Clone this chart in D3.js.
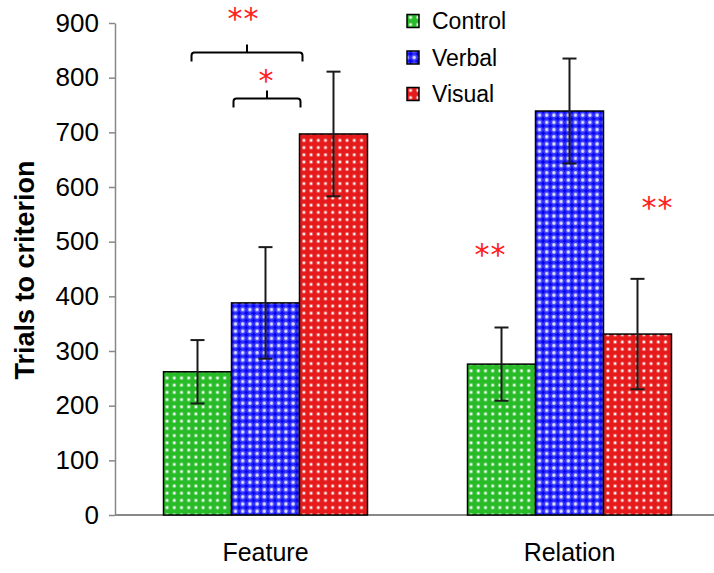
<!DOCTYPE html>
<html><head><meta charset="utf-8">
<script src="https://cdn.jsdelivr.net/npm/d3@7"></script>
<style>body{margin:0;background:#fff}svg{display:block}</style>
</head><body>
<script>
// Trials to criterion by training condition
const categories = ["Feature", "Relation"];
const seriesNames = ["Control", "Verbal", "Visual"];
const controlMeans = [262, 276];
const verbalMeans = [388, 739];
const visualMeans = [697, 331];
const controlErr = [58, 67];
const verbalErr = [102, 96];
const visualErr = [114, 101];
const yTicks = [0, 100, 200, 300, 400, 500, 600, 700, 800, 900];

const W = 714, H = 573;
const font = "'Liberation Sans', Arial, sans-serif";
const svg = d3.select("body").append("svg").attr("width", W).attr("height", H);

const y = d3.scaleLinear().domain([0, 900]).range([515, 23]);
const x0 = d3.scaleBand().domain(categories).range([113.5, 721.5])
  .paddingInner(0.329).paddingOuter(0.1645);
const x1 = d3.scaleBand().domain(seriesNames).range([0, x0.bandwidth()]);

// pattern fills
const defs = svg.append("defs");
function dotPattern(id, base, dot) {
  const p = defs.append("pattern").attr("id", id).attr("patternUnits", "userSpaceOnUse")
    .attr("width", 7.2).attr("height", 7.2);
  p.append("rect").attr("width", 7.2).attr("height", 7.2).attr("fill", base);
  p.append("circle").attr("cx", 3.6).attr("cy", 3.6).attr("r", 2).attr("fill", dot).attr("opacity", 0.55);
  p.append("circle").attr("cx", 3.6).attr("cy", 3.6).attr("r", 1.1).attr("fill", "#fff");
}
dotPattern("pControl", "#28bb28", "#bff0bf");
dotPattern("pVisual", "#e61a1a", "#f6b8b8");
{
  const p = defs.append("pattern").attr("id", "pVerbal").attr("patternUnits", "userSpaceOnUse")
    .attr("width", 7.2).attr("height", 7.2);
  p.append("rect").attr("width", 7.2).attr("height", 7.2).attr("fill", "#3a3aff");
  [[0,0],[7.2,0],[0,7.2],[7.2,7.2]].forEach(([cx, cy]) =>
    p.append("circle").attr("cx", cx).attr("cy", cy).attr("r", 1.7).attr("fill", "#e0e0ff"));
  p.append("path").attr("d", "M3.6,0.4L4.6,2.6L6.8,3.6L4.6,4.6L3.6,6.8L2.6,4.6L0.4,3.6L2.6,2.6Z").attr("fill", "#0000ee");
}
const fills = { Control: "url(#pControl)", Verbal: "url(#pVerbal)", Visual: "url(#pVisual)" };

const rows = categories.map((c, i) => ({
  cat: c,
  vals: [
    { s: "Control", v: controlMeans[i], e: controlErr[i] },
    { s: "Verbal", v: verbalMeans[i], e: verbalErr[i] },
    { s: "Visual", v: visualMeans[i], e: visualErr[i] }
  ]
}));

// axes
const yAxis = svg.append("g").attr("transform", "translate(115,0)")
  .call(d3.axisLeft(y).tickValues(yTicks).tickSize(6).tickSizeOuter(0).tickPadding(10));
yAxis.selectAll("line,path").attr("stroke", "#888").attr("stroke-width", 1.5);
yAxis.selectAll("text").attr("font-family", font).attr("font-size", 26).attr("fill", "#000");

const xAxis = svg.append("g").attr("transform", "translate(0,515)")
  .call(d3.axisBottom(x0).tickSize(0).tickPadding(28));
xAxis.select(".domain").attr("d", "M115,0H714").attr("stroke", "#888").attr("stroke-width", 2);
xAxis.selectAll("text").attr("font-family", font).attr("font-size", 25).attr("fill", "#000");

// bars
const groups = svg.append("g").selectAll("g").data(rows).join("g")
  .attr("transform", d => `translate(${x0(d.cat)},0)`);
groups.selectAll("rect").data(d => d.vals).join("rect")
  .attr("x", d => x1(d.s)).attr("width", x1.bandwidth())
  .attr("y", d => y(d.v)).attr("height", d => y(0) - y(d.v))
  .attr("fill", d => fills[d.s]).attr("stroke", "#000").attr("stroke-width", 1.5);

// error bars
const eb = groups.selectAll("g.err").data(d => d.vals).join("g").attr("class", "err")
  .attr("stroke", "#1a1a1a").attr("stroke-width", 2);
eb.append("line")
  .attr("x1", d => x1(d.s) + x1.bandwidth() / 2).attr("x2", d => x1(d.s) + x1.bandwidth() / 2)
  .attr("y1", d => y(d.v + d.e)).attr("y2", d => y(d.v - d.e));
eb.append("line")
  .attr("x1", d => x1(d.s) + x1.bandwidth() / 2 - 7).attr("x2", d => x1(d.s) + x1.bandwidth() / 2 + 7)
  .attr("y1", d => y(d.v + d.e)).attr("y2", d => y(d.v + d.e));
eb.append("line")
  .attr("x1", d => x1(d.s) + x1.bandwidth() / 2 - 7).attr("x2", d => x1(d.s) + x1.bandwidth() / 2 + 7)
  .attr("y1", d => y(d.v - d.e)).attr("y2", d => y(d.v - d.e));

// y-axis title
svg.append("text").attr("transform", "translate(34,270) rotate(-90)")
  .attr("text-anchor", "middle").attr("font-family", font).attr("font-weight", "bold")
  .attr("font-size", 27).text("Trials to criterion");

// legend
const legend = svg.append("g").selectAll("g").data(seriesNames).join("g")
  .attr("transform", (d, i) => `translate(407,${21 + i * 36.5})`);
legend.append("rect").attr("x", 0).attr("y", -6.5).attr("width", 12).attr("height", 13)
  .attr("fill", d => fills[d]).attr("stroke", "#000").attr("stroke-width", 1.5);
legend.append("text").attr("x", 25).attr("y", 8).attr("font-family", font)
  .attr("font-size", 23).text(d => d);

// significance brackets
const fx = x0("Feature");
function bracket(xa, xb, yy) {
  const xm = (xa + xb) / 2, r = 3;
  svg.append("path")
    .attr("d", `M${xa},${yy + 9}V${yy + r}Q${xa},${yy} ${xa + r},${yy}H${xb - r}Q${xb},${yy} ${xb},${yy + r}V${yy + 9}M${xm},${yy}V${yy - 8}`)
    .attr("fill", "none").attr("stroke", "#000").attr("stroke-width", 2);
}
bracket(fx + x1("Control") + 28, fx + x1("Visual") + 3, y(846));
bracket(fx + x1("Verbal") + 2, fx + x1("Visual") + 1, y(762));

const stars = [
  { t: "**", x: fx + x1("Control") + 80, y: y(916) },
  { t: "*", x: fx + x1("Verbal") + 35, y: y(803) },
  { t: "**", x: x0("Relation") + x1("Control") + 23, y: y(484) },
  { t: "**", x: x0("Relation") + x1("Visual") + 54, y: y(571) }
];
svg.append("g").selectAll("text").data(stars).join("text")
  .attr("x", d => d.x).attr("y", d => d.y + 15).attr("text-anchor", "middle")
  .attr("font-family", "'DejaVu Sans', sans-serif").attr("font-size", 30)
  .attr("letter-spacing", 1)
  .attr("fill", "#ff2020").text(d => d.t);
</script>
</body></html>
